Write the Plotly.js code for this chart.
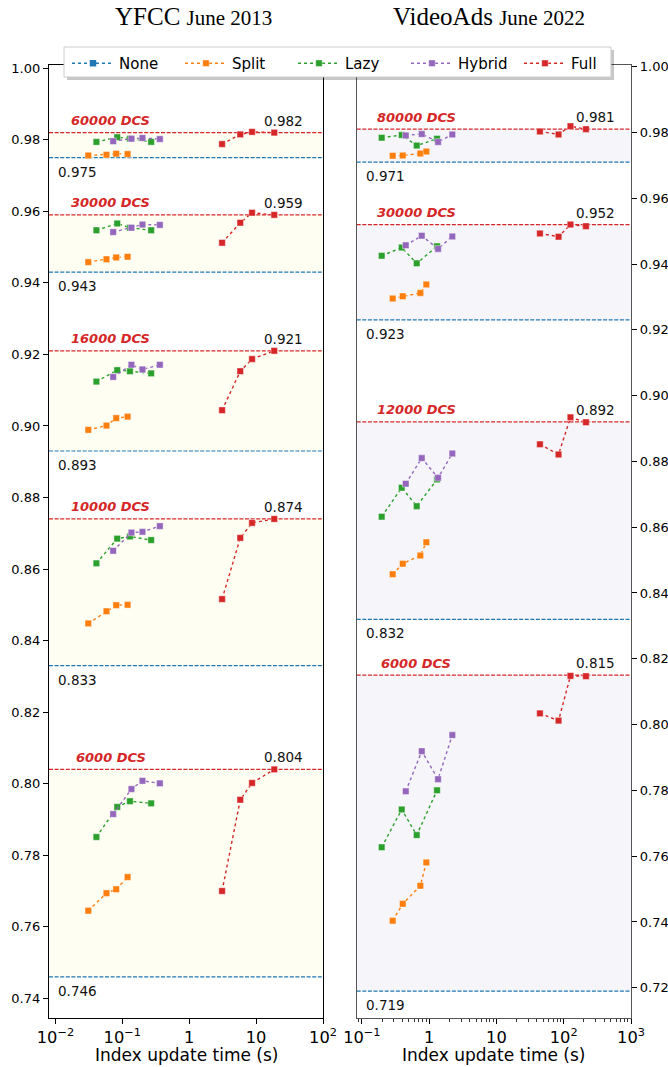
<!DOCTYPE html>
<html><head><meta charset="utf-8">
<script src="https://cdn.plot.ly/plotly-3.0.1.min.js"></script>
<style>body{margin:0;padding:0;background:#fff}#chart{width:668px;height:1067px}</style>
</head><body><div id="chart"></div>
<script>
const methods = ['None','Split','Lazy','Hybrid','Full'];
const colors = ['#1f77b4','#ff7f0e','#2ca02c','#9467bd','#d62728'];

// ---- YFCC (June 2013) ----
const yfccDcs = ['60000 DCS','30000 DCS','16000 DCS','10000 DCS','6000 DCS'];
const yfccNone = [0.975, 0.943, 0.893, 0.833, 0.746];
const yfccBest = [0.982, 0.959, 0.921, 0.874, 0.804];
const yfccSplitX  = [0.031, 0.058, 0.081, 0.12];
const yfccLazyX   = [0.041, 0.084, 0.13, 0.27];
const yfccHybridX = [0.073, 0.137, 0.2, 0.364];
const yfccFullX   = [3.1, 5.8, 8.7, 18.7];
const yfccSplit = [
  [0.9756,0.9758,0.9761,0.9760],
  [0.9458,0.9466,0.9471,0.9473],
  [0.8989,0.9001,0.9022,0.9026],
  [0.8448,0.8482,0.8499,0.8500],
  [0.7645,0.7694,0.7705,0.7739]];
const yfccLazy = [
  [0.9794,0.9807,0.9803,0.9794],
  [0.9547,0.9566,0.9554,0.9547],
  [0.9124,0.9156,0.9153,0.9147],
  [0.8616,0.8685,0.8691,0.8681],
  [0.7851,0.7935,0.7951,0.7945]];
const yfccHybrid = [
  [0.9796,0.9803,0.9805,0.9802],
  [0.9542,0.9554,0.9563,0.9562],
  [0.9137,0.9171,0.9158,0.9171],
  [0.8651,0.8702,0.8704,0.8720],
  [0.7915,0.7985,0.8008,0.8001]];
const yfccFull = [
  [0.9788,0.9815,0.9822,0.982],
  [0.9512,0.9568,0.9596,0.959],
  [0.9044,0.9153,0.9187,0.921],
  [0.8516,0.8687,0.8729,0.874],
  [0.7700,0.7955,0.8002,0.804]];

// ---- VideoAds (June 2022) ----
const vaDcs = ['80000 DCS','30000 DCS','12000 DCS','6000 DCS'];
const vaNone = [0.971, 0.923, 0.832, 0.719];
const vaBest = [0.981, 0.952, 0.892, 0.815];
const vaSplitX  = [0.287, 0.405, 0.74, 0.908];
const vaLazyX   = [0.197, 0.391, 0.653, 1.31];
const vaHybridX = [0.449, 0.776, 1.355, 2.21];
const vaFullX   = [44.3, 83.8, 126, 214];
const vaSplit = [
  [0.9729,0.9730,0.9736,0.9742],
  [0.9295,0.9302,0.9312,0.9338],
  [0.8457,0.8489,0.8514,0.8554],
  [0.7404,0.7455,0.7510,0.7581]];
const vaLazy = [
  [0.9784,0.9792,0.9760,0.9781],
  [0.9425,0.9450,0.9402,0.9454],
  [0.8632,0.8720,0.8664,0.8745],
  [0.7627,0.7742,0.7664,0.7800]];
const vaHybrid = [
  [0.9791,0.9795,0.9771,0.9794],
  [0.9457,0.9486,0.9446,0.9484],
  [0.8732,0.8810,0.8750,0.8824],
  [0.7797,0.7919,0.7834,0.7968]];
const vaFull = [
  [0.9803,0.9794,0.9819,0.9810],
  [0.9493,0.9483,0.9520,0.9515],
  [0.8852,0.8821,0.8934,0.8919],
  [0.8034,0.8012,0.8148,0.8147]];

const FONT = 'DejaVu Sans, sans-serif';

function joinGroups(xs, groups) {
  const x = [], y = [];
  groups.forEach((g, i) => {
    if (i > 0) { x.push(null); y.push(null); }
    g.forEach((v, j) => { x.push(xs[j]); y.push(v); });
  });
  return {x, y};
}

function series(xs, groups, mi, xa, ya, legend) {
  const d = joinGroups(xs, groups);
  return {
    type: 'scatter', mode: 'lines+markers', name: methods[mi],
    x: d.x, y: d.y, xaxis: xa, yaxis: ya, connectgaps: false,
    showlegend: legend, legendgroup: methods[mi],
    line: {color: colors[mi], width: 1.4, dash: 'dot'},
    marker: {symbol: 'square', size: 6.5, color: colors[mi],
             line: {color: 'rgba(255,255,255,0.5)', width: 0.8}}
  };
}

const traces = [
  {type:'scatter', mode:'lines+markers', name:'None', x:[null], y:[null],
   xaxis:'x', yaxis:'y', showlegend:true,
   line:{color:colors[0], width:1.4, dash:'dot'},
   marker:{symbol:'square', size:6.5, color:colors[0]}},
  series(yfccSplitX, yfccSplit, 1, 'x', 'y', true),
  series(yfccLazyX, yfccLazy, 2, 'x', 'y', true),
  series(yfccHybridX, yfccHybrid, 3, 'x', 'y', true),
  series(yfccFullX, yfccFull, 4, 'x', 'y', true),
  series(vaSplitX, vaSplit, 1, 'x2', 'y2', false),
  series(vaLazyX, vaLazy, 2, 'x2', 'y2', false),
  series(vaHybridX, vaHybrid, 3, 'x2', 'y2', false),
  series(vaFullX, vaFull, 4, 'x2', 'y2', false)
];

const shapes = [];
const annotations = [];
function addPanel(noneV, bestV, dcs, xa, ya, bandColor, dcsX, bestX, noneX) {
  const xd = xa + ' domain';
  noneV.forEach((nv, i) => {
    shapes.push({type:'rect', xref:xd, yref:ya, x0:0, x1:1, y0:nv, y1:bestV[i],
      fillcolor:bandColor, line:{width:0}, layer:'below'});
    shapes.push({type:'line', xref:xd, yref:ya, x0:0, x1:1, y0:nv, y1:nv,
      line:{color:colors[0], width:1.2, dash:'4px,1.6px'}, layer:'below'});
    shapes.push({type:'line', xref:xd, yref:ya, x0:0, x1:1, y0:bestV[i], y1:bestV[i],
      line:{color:colors[4], width:1.2, dash:'4px,1.6px'}, layer:'below'});
    annotations.push({xref:xd, yref:ya, x:dcsX, y:bestV[i], yshift:12, showarrow:false,
      xanchor:'center', yanchor:'middle', text:'<b><i>' + dcs[i] + '</i></b>',
      font:{family:FONT, size:13, color:colors[4]}});
    annotations.push({xref:xd, yref:ya, x:bestX, y:bestV[i], yshift:12, showarrow:false,
      xanchor:'center', yanchor:'middle', text:bestV[i].toFixed(3),
      font:{family:FONT, size:13.5, color:'#111'}});
    annotations.push({xref:xd, yref:ya, x:noneX, y:nv, yshift:-14, showarrow:false,
      xanchor:'left', yanchor:'middle', text:nv.toFixed(3),
      font:{family:FONT, size:13.5, color:'#111'}});
  });
}
addPanel(yfccNone, yfccBest, yfccDcs, 'x', 'y', '#fffef2', 0.2247, 0.854, 0.0245);
addPanel(vaNone, vaBest, vaDcs, 'x2', 'y2', '#f5f5fa', 0.2174, 0.869, 0.0277);

// panel titles
annotations.push({xref:'paper', yref:'paper', x:0.249, y:1.0504, showarrow:false,
  xanchor:'center', yanchor:'middle',
  text:'YFCC <span style="font-size:21px">June 2013</span>',
  font:{family:'Liberation Serif, serif', size:25, color:'#000'}});
annotations.push({xref:'paper', yref:'paper', x:0.756, y:1.0504, showarrow:false,
  xanchor:'center', yanchor:'middle',
  text:'VideoAds <span style="font-size:21px">June 2022</span>',
  font:{family:'Liberation Serif, serif', size:25, color:'#000'}});
// x-axis titles
annotations.push({xref:'x domain', yref:'paper', x:0.5, y:-0.0388, showarrow:false,
  xanchor:'center', yanchor:'middle', text:'Index update time (s)',
  font:{family:FONT, size:17, color:'#000'}});
annotations.push({xref:'x2 domain', yref:'paper', x:0.5, y:-0.0388, showarrow:false,
  xanchor:'center', yanchor:'middle', text:'Index update time (s)',
  font:{family:FONT, size:17, color:'#000'}});

// legend frame: shadow + white box (legend itself is transparent)
shapes.push({type:'rect', xref:'paper', yref:'paper', x0:0.0309, x1:0.9708, y0:0.9843, y1:1.0157,
  fillcolor:'rgba(0,0,0,0.22)', line:{width:0}, layer:'above'});
shapes.push({type:'rect', xref:'paper', yref:'paper', x0:0.0258, x1:0.9656, y0:0.9874, y1:1.0189,
  fillcolor:'#ffffff', line:{color:'#cccccc', width:1}, layer:'above'});

const axCommon = {
  showline:true, mirror:true, linewidth:1.2, ticks:'outside', ticklen:5, tickwidth:1,
  tickcolor:'#000', showgrid:false, zeroline:false,
  tickfont:{family:FONT, size:13, color:'#000'}
};

const layout = {
  width:668, height:1067,
  margin:{l:49, r:37, t:65, b:49},
  paper_bgcolor:'#fff', plot_bgcolor:'#fff',
  font:{family:FONT, color:'#000'},
  xaxis: Object.assign({}, axCommon, {type:'log', domain:[0, 0.4708],
    range:[-2.096, 2.0], dtick:1, exponentformat:'power', linecolor:'#000', anchor:'y'}),
  yaxis: Object.assign({}, axCommon, {range:[0.7345, 1.0009], dtick:0.02, tick0:0,
    tickformat:'.2f', linecolor:'#000', anchor:'x', side:'left'}),
  xaxis2: Object.assign({}, axCommon, {type:'log', domain:[0.5287, 1],
    range:[-1.077, 3.0], dtick:1, exponentformat:'power', linecolor:'#555', anchor:'y2',
    minor:{ticks:'outside', ticklen:3, tickwidth:0.8, tickcolor:'#000', dtick:'D1'}}),
  yaxis2: Object.assign({}, axCommon, {range:[0.7108, 1.0005], dtick:0.02, tick0:0,
    tickformat:'.2f', linecolor:'#555', anchor:'x2', side:'right'}),
  showlegend:true,
  legend:{orientation:'h', x:0.0309, y:1.0189, xanchor:'left', yanchor:'top',
    bgcolor:'rgba(0,0,0,0)', borderwidth:0,
    itemwidth:42, entrywidthmode:'pixels', entrywidth:56,
    font:{family:FONT, size:15, color:'#000'}},
  shapes: shapes,
  annotations: annotations
};

Plotly.newPlot('chart', traces, layout, {displayModeBar:false, staticPlot:true});
</script></body></html>
